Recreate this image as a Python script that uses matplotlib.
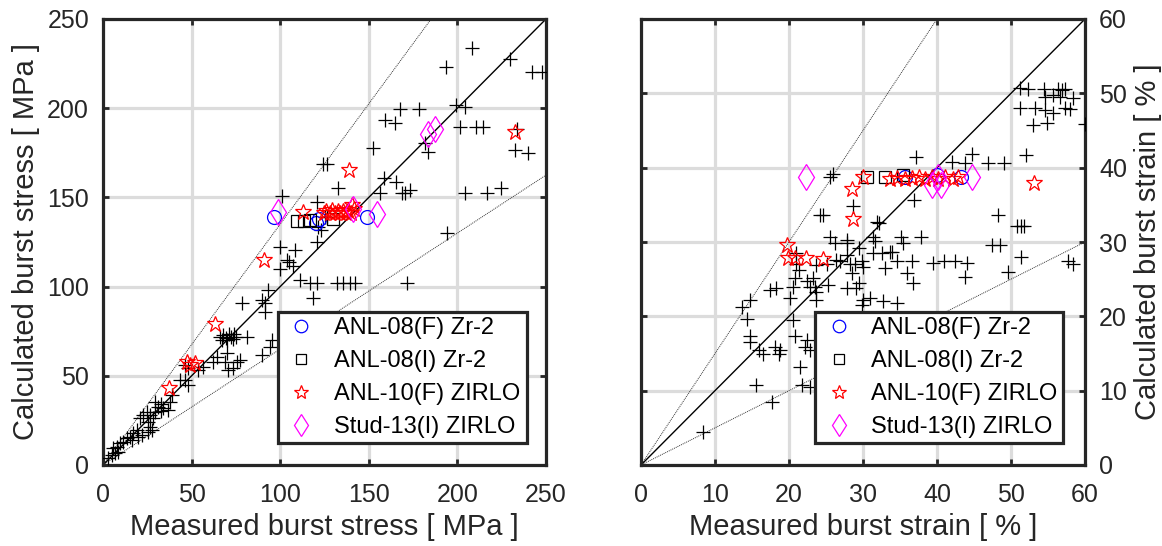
import matplotlib
matplotlib.use('Agg')
import matplotlib.pyplot as plt
import numpy as np

plt.rcParams['font.family'] = ['Liberation Sans', 'DejaVu Sans']

# ---------------- Left panel: burst stress [MPa] ----------------
stress_db_meas = [208.4, 193.4, 229.7, 241.9, 247.5, 167.6, 178.5, 199.2, 204.3, 159.1, 164.8, 201.5,
                  210.5, 214.6, 233.4, 181.7, 183.6, 232.5, 240.0, 152.5, 124.3, 126.6, 158.6, 165.3,
                  132.8, 156.3, 168.6, 170.5, 173.2, 204.3, 216.9, 224.4, 100.8, 120.6, 194.0, 123.0,
                  126.2, 121.5, 125.0,
                  99.9, 108.4, 103.7, 105.1, 99.9, 107.4, 111.2, 116.8, 120.6, 118.7, 131.9, 135.6,
                  139.4, 142.2, 171.4, 120.6, 93.3, 89.5, 91.4, 91.4, 78.3, 81.1, 95.2, 94.2, 89.5,
                  66.0, 68.0, 69.5, 71.0, 72.0, 73.5, 75.0, 67.0, 70.0, 74.0,
                  64.2, 69.8, 62.3, 68.8, 75.4, 77.3, 70.7, 73.5, 56.6, 53.8, 46.3, 48.1, 46.3, 48.1,
                  43.5, 38.8, 37.8, 29.3, 31.2, 34.0, 36.9, 29.3, 24.7, 26.5, 22.7, 28.4, 20.9, 25.6,
                  27.5, 25.6, 26.5, 19.0, 17.1, 21.8, 19.9, 15.2, 13.4, 11.5, 16.2, 9.6, 7.7, 5.8,
                  8.6, 6.8, 4.9, 3.0, 32.5, 33.0]
stress_db_calc = [233.5, 222.9, 227.4, 220.5, 220.5, 199.6, 199.6, 201.8, 200.5, 193.4, 191.5, 189.3,
                  189.3, 189.3, 188.5, 180.3, 175.6, 176.6, 174.7, 177.9, 168.7, 168.7, 160.7, 158.5,
                  155.1, 152.3, 152.3, 152.3, 154.1, 152.3, 152.2, 155.4, 151.0, 147.6, 130.2, 131.7,
                  139.2, 133.5, 139.0,
                  122.4, 120.5, 114.9, 114.0, 109.7, 111.5, 103.7, 101.8, 101.8, 93.4, 101.8, 101.8,
                  101.8, 101.8, 101.8, 125.2, 98.1, 92.5, 90.6, 85.9, 90.6, 71.9, 70.0, 66.3, 61.7,
                  72.0, 73.0, 71.0, 73.5, 72.0, 70.5, 72.0, 70.0, 70.0, 73.5,
                  60.7, 62.6, 57.9, 57.9, 57.9, 59.0, 53.3, 54.2, 55.1, 53.3, 56.1, 54.2, 47.6, 44.8,
                  47.6, 39.2, 35.5, 35.5, 32.7, 31.8, 30.8, 29.9, 29.9, 28.0, 28.0, 26.2, 26.2, 24.3,
                  19.6, 18.7, 21.5, 19.6, 17.8, 16.8, 15.9, 15.9, 15.0, 13.1, 14.0, 12.2, 10.3, 9.4,
                  7.5, 6.6, 5.6, 3.8, 34.0, 30.5]

stress_anl08f_meas = [96.5, 120.0, 122.0, 148.8]
stress_anl08f_calc = [139.2, 135.5, 138.0, 138.8]
stress_anl08i_meas = [109.3, 113.5, 117.0, 130.0]
stress_anl08i_calc = [137.0, 137.0, 137.5, 137.9]
stress_anl10f_meas = [113.0, 124.5, 126.0, 128.0, 129.5, 131.0, 132.5, 134.0, 135.5, 137.0, 138.5,
                      140.0, 141.5, 140.3, 139.0, 232.5, 90.9, 63.2, 47.2, 51.9, 49.1, 37.4]
stress_anl10f_calc = [141.6, 141.0, 142.5, 141.0, 143.0, 141.5, 142.5, 141.0, 142.5, 141.5, 143.0,
                      141.0, 143.5, 145.7, 165.4, 186.7, 114.9, 79.0, 57.9, 57.0, 56.1, 43.0]
stress_stud13_meas = [98.9, 141.3, 154.4, 183.6, 187.4]
stress_stud13_calc = [142.0, 143.5, 140.7, 185.5, 188.1]

# ---------------- Right panel: burst strain [%] ----------------
strain_db_meas = [51.2, 52.3, 54.4, 56.4, 56.9, 57.3, 55.7, 54.6, 56.6, 58.4, 51.2, 53.2, 54.6, 55.7,
                  57.3, 58.0, 53.0, 54.8, 60.0,
                  37.2, 44.7, 43.8, 42.0, 46.9, 49.0, 52.0, 26.0, 25.5, 36.9, 28.6, 24.2, 24.6, 48.3,
                  31.9, 32.1, 50.8, 51.7, 51.3, 25.5, 27.8, 31.4, 35.2, 37.9,
                  26.2, 27.8, 29.4, 31.6, 35.4, 47.4, 48.5, 51.4, 57.7, 58.4, 33.6, 26.9, 28.2, 29.8,
                  30.0, 34.6, 36.6, 39.5, 40.9, 42.4, 44.0, 33.0, 43.8, 49.6, 35.9, 36.8,
                  21.0, 21.0, 21.3, 23.7, 25.1, 26.4, 27.8, 28.9, 28.5, 31.4, 32.5, 33.9,
                  20.8, 20.6, 18.3, 17.4, 22.4, 23.3, 23.5, 23.7, 22.8, 25.3, 27.8, 29.1, 29.4, 20.1,
                  14.7, 13.6, 14.3, 20.6, 30.0, 30.9, 29.8, 32.7, 34.6, 23.7, 14.7, 20.8,
                  14.7, 15.9, 16.5, 18.1, 18.8, 18.6, 22.4, 22.2, 22.8, 21.5, 15.6, 17.7, 21.7, 22.8,
                  8.4]
strain_db_calc = [50.7, 50.6, 50.6, 50.6, 50.5, 50.6, 49.8, 49.5, 49.5, 49.4, 48.0, 48.0, 47.8, 47.3,
                  48.0, 47.9, 45.8, 46.0, 45.9,
                  41.5, 41.9, 40.6, 40.7, 40.6, 40.6, 41.7, 39.2, 38.8, 35.6, 34.8, 33.6, 33.6, 33.6,
                  32.7, 32.5, 32.1, 32.1, 32.1, 30.7, 30.3, 30.7, 30.7, 30.7,
                  29.8, 29.8, 29.2, 30.1, 29.8, 29.6, 29.6, 28.0, 27.4, 27.1, 28.6, 27.4, 27.1, 27.4,
                  26.7, 27.4, 27.4, 27.2, 27.4, 27.4, 27.2, 26.5, 25.3, 26.0, 25.8, 24.5,
                  28.5, 27.1, 26.2, 26.9, 27.1, 27.6, 28.3, 27.1, 25.8, 28.5, 28.5, 28.7,
                  25.1, 24.0, 23.8, 23.6, 24.7, 25.1, 24.0, 23.3, 24.0, 24.2, 23.8, 23.8, 24.5, 22.4,
                  22.2, 21.3, 19.7, 19.5, 22.2, 22.4, 21.5, 22.0, 21.8, 22.2, 17.3, 17.3,
                  16.6, 15.5, 15.0, 15.9, 15.5, 15.0, 16.8, 15.9, 15.5, 13.2, 10.8, 8.5, 10.8, 10.5,
                  4.5]

strain_anl08f_meas = [35.7, 40.0, 43.3]
strain_anl08f_calc = [38.8, 39.0, 38.8]
strain_anl08i_meas = [30.6, 33.0, 35.4]
strain_anl08i_calc = [38.8, 38.8, 39.0]
strain_anl10f_meas = [19.7, 19.8, 20.8, 22.3, 24.6, 28.5, 28.6, 30.0, 33.6, 34.6, 35.7, 36.6, 37.5,
                      38.4, 39.3, 40.2, 41.1, 42.2, 42.9, 53.1]
strain_anl10f_calc = [29.6, 27.8, 27.8, 27.9, 27.7, 37.1, 33.1, 38.8, 38.5, 38.6, 38.5, 38.6, 38.7,
                      38.5, 38.7, 38.5, 38.7, 38.5, 38.7, 38.0]
strain_stud13_meas = [22.3, 39.3, 40.6, 40.2, 44.7]
strain_stud13_calc = [38.8, 37.7, 37.7, 38.8, 38.8]

legend_labels = ['ANL-08(F) Zr-2', 'ANL-08(I) Zr-2', 'ANL-10(F) ZIRLO', 'Stud-13(I) ZIRLO']

stress_ticks = [0, 50, 100, 150, 200, 250]
strain_ticks = [0, 10, 20, 30, 40, 50, 60]
stress_band = 0.35
strain_band = 0.50

DARK = '#262626'
GRID = '#dcdcdc'

fig = plt.figure(figsize=(11.62, 5.46), dpi=100)
axL = fig.add_axes([103/1162, 81/546, 443/1162, 446/546])
axR = fig.add_axes([641/1162, 81/546, 444/1162, 446/546])


def style_axes(ax, lim, ticks):
    ax.set_xlim(0, lim)
    ax.set_ylim(0, lim)
    ax.set_xticks(ticks)
    ax.set_yticks(ticks)
    ax.set_axisbelow(True)
    ax.grid(True, color=GRID, lw=2.3)
    for s in ax.spines.values():
        s.set_linewidth(2.3)
        s.set_color(DARK)
    ax.tick_params(direction='in', length=4, width=2, colors=DARK, labelsize=18,
                   top=True, right=True)
    ax.tick_params(axis='x', pad=13)
    ax.tick_params(axis='y', pad=10)


def draw(ax, lim, band, db, a8f, a8i, a10, s13):
    xs = np.array([0, lim])
    ax.plot(xs, xs, color='black', lw=1.0, zorder=2)
    ax.plot(xs, xs * (1 + band), color='#333333', lw=0.7, ls=(0, (1, 1)), zorder=2)
    ax.plot(xs, xs * (1 - band), color='#333333', lw=0.7, ls=(0, (1, 1)), zorder=2)
    ax.plot(db[0], db[1], ls='none', marker='+', ms=10.5, mew=0.9, color='black', zorder=3)
    h1, = ax.plot(a8f[0], a8f[1], ls='none', marker='o', ms=10, mfc='none', mec='#0000ff', mew=0.9, zorder=4)
    h2, = ax.plot(a8i[0], a8i[1], ls='none', marker='s', ms=8, mfc='none', mec='black', mew=0.9, zorder=4)
    h3, = ax.plot(a10[0], a10[1], ls='none', marker='*', ms=12, mfc='none', mec='#ff0000', mew=0.9, zorder=4)
    h4, = ax.plot(s13[0], s13[1], ls='none', marker='d', ms=13, mfc='none', mec='#ff00ff', mew=0.9, zorder=4)
    return [h1, h2, h3, h4]


style_axes(axL, 250, stress_ticks)
hL = draw(axL, 250, stress_band, (stress_db_meas, stress_db_calc),
          (stress_anl08f_meas, stress_anl08f_calc), (stress_anl08i_meas, stress_anl08i_calc),
          (stress_anl10f_meas, stress_anl10f_calc), (stress_stud13_meas, stress_stud13_calc))
axL.set_xlabel('Measured burst stress [ MPa ]', fontsize=21, color=DARK, labelpad=4)
axL.set_ylabel('Calculated burst stress [ MPa ]', fontsize=21, color=DARK, labelpad=5)

style_axes(axR, 60, strain_ticks)
hR = draw(axR, 60, strain_band, (strain_db_meas, strain_db_calc),
          (strain_anl08f_meas, strain_anl08f_calc), (strain_anl08i_meas, strain_anl08i_calc),
          (strain_anl10f_meas, strain_anl10f_calc), (strain_stud13_meas, strain_stud13_calc))
axR.tick_params(labelleft=False, labelright=True)
axR.yaxis.set_label_position('right')
axR.set_xlabel('Measured burst strain [ % ]', fontsize=21, color=DARK, labelpad=4)
axR.set_ylabel('Calculated burst strain [ % ]', fontsize=21, color=DARK, labelpad=5)

for ax, h, anchor in [(axL, hL, (0.395, 0.049, 0.562, 0.3)), (axR, hR, (0.392, 0.049, 0.5586, 0.3))]:
    leg = ax.legend(h, legend_labels, loc='lower left', bbox_to_anchor=anchor, mode='expand',
                    fontsize=17, fancybox=False, framealpha=1, edgecolor=DARK, borderpad=0.21,
                    labelspacing=0.47, handletextpad=0.61, handlelength=1.57, borderaxespad=0,
                    markerscale=0.9)
    leg.get_frame().set_linewidth(2.3)
    for t in leg.get_texts():
        t.set_color('black')
    leg.set_zorder(10)

fig.savefig('out.png', dpi=100)
